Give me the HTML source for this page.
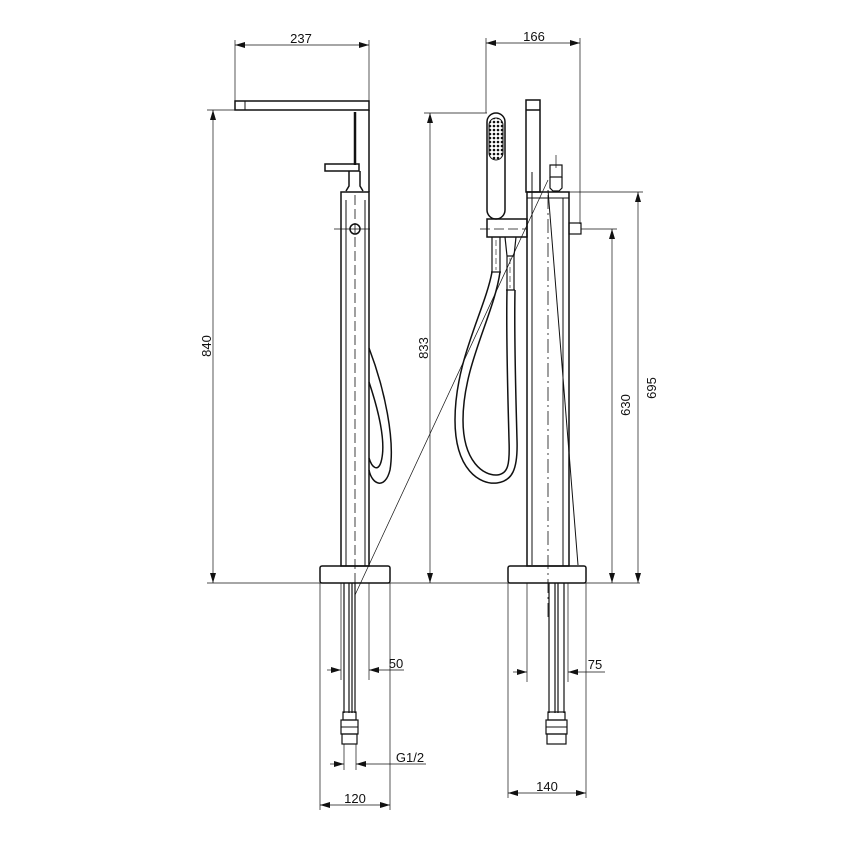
<!DOCTYPE html>
<html><head><meta charset="utf-8"><style>
html,body{margin:0;padding:0;background:#fff;width:850px;height:850px;overflow:hidden}
svg{display:block}
text{font-family:"Liberation Sans",sans-serif;font-size:13px;fill:#111}
</style></head><body>
<svg width="850" height="850" viewBox="0 0 850 850" xmlns="http://www.w3.org/2000/svg">
<defs>
<marker id="a" viewBox="0 0 10 6" refX="10" refY="3" markerWidth="10" markerHeight="6" orient="auto-start-reverse" markerUnits="userSpaceOnUse"><path d="M0,0 L10,3 L0,6z" fill="#111"/></marker>
<pattern id="dots" width="4" height="4" patternUnits="userSpaceOnUse"><circle cx="2" cy="2" r="1.3" fill="#111"/></pattern>
</defs>
<g stroke="#111" fill="none" stroke-width="1">
<!-- ===== LEFT VIEW ===== -->
<!-- 237 dim -->
<line x1="235" y1="40" x2="235" y2="101" stroke-width="0.7"/>
<line x1="369" y1="40" x2="369" y2="101" stroke-width="0.7"/>
<line x1="235" y1="45" x2="369" y2="45" stroke-width="0.7" marker-start="url(#a)" marker-end="url(#a)"/>
<!-- spout -->
<rect x="235" y="101" width="134" height="9" stroke-width="1.5"/>
<line x1="245" y1="101" x2="245" y2="110"/>
<line x1="369" y1="110" x2="369" y2="192" stroke-width="1.5"/>
<line x1="355" y1="112" x2="355" y2="165" stroke-width="2.5"/>
<!-- lever -->
<rect x="325" y="164" width="34" height="7" stroke-width="1.5"/>
<path d="M349,171 V186 L346,191 M360,171 V186 L363,191" stroke-width="1.5"/>
<!-- column -->
<rect x="341" y="192" width="28" height="374" stroke-width="1.5"/>
<line x1="346" y1="200" x2="346" y2="566"/>
<line x1="365" y1="200" x2="365" y2="566"/>
<line x1="355" y1="195" x2="355" y2="620" stroke-dasharray="10,4" stroke-width="0.8"/>
<circle cx="355" cy="229" r="5" stroke-width="1.5"/>
<line x1="334" y1="229" x2="370" y2="229" stroke-width="0.7"/>
<!-- hose left -->
<path d="M369,348 C385,390 395,440 390,470 C385,490 372,485 369,470" stroke-width="1.5"/>
<path d="M369,382 C380,415 386,445 381,462 C378,472 372,468 369,458" stroke-width="1.5"/>
<!-- base -->
<rect x="320" y="566" width="70" height="17" rx="2" stroke-width="1.5"/>
<!-- pipes -->
<line x1="344" y1="583" x2="344" y2="713" stroke-width="1.2"/>
<line x1="349" y1="583" x2="349" y2="713" stroke-width="1.2"/>
<line x1="352" y1="583" x2="352" y2="713" stroke-width="1.2"/>
<line x1="355" y1="583" x2="355" y2="713" stroke-width="1.2"/>
<rect x="343" y="712" width="13" height="8" stroke-width="1.2"/>
<rect x="341" y="720" width="17" height="14" stroke-width="1.2"/>
<rect x="342" y="734" width="15" height="10" stroke-width="1.2"/>
<line x1="341" y1="727" x2="358" y2="727"/>
<!-- 840 dim -->
<line x1="207" y1="110" x2="235" y2="110" stroke-width="0.7"/>
<line x1="213" y1="110" x2="213" y2="583" stroke-width="0.7" marker-start="url(#a)" marker-end="url(#a)"/>
<line x1="207" y1="583" x2="640" y2="583" stroke-width="0.7"/>
<!-- 50 -->
<line x1="341" y1="583" x2="341" y2="680" stroke-width="0.7"/>
<line x1="369" y1="583" x2="369" y2="680" stroke-width="0.7"/>
<line x1="327" y1="670" x2="341" y2="670" stroke-width="0.7" marker-end="url(#a)"/>
<line x1="404" y1="670" x2="369" y2="670" stroke-width="0.7" marker-end="url(#a)"/>
<!-- G1/2 -->
<line x1="344" y1="744" x2="344" y2="770" stroke-width="0.7"/>
<line x1="356" y1="744" x2="356" y2="770" stroke-width="0.7"/>
<line x1="330" y1="764" x2="344" y2="764" stroke-width="0.7" marker-end="url(#a)"/>
<line x1="426" y1="764" x2="356" y2="764" stroke-width="0.7" marker-end="url(#a)"/>
<!-- 120 -->
<line x1="320" y1="583" x2="320" y2="810" stroke-width="0.7"/>
<line x1="390" y1="583" x2="390" y2="810" stroke-width="0.7"/>
<line x1="320" y1="805" x2="390" y2="805" stroke-width="0.7" marker-start="url(#a)" marker-end="url(#a)"/>
<!-- diagonal cross lines -->
<line x1="355" y1="595" x2="548" y2="180" stroke-width="0.7"/>
<line x1="548" y1="190" x2="578" y2="565" stroke-width="1"/>

<!-- ===== RIGHT VIEW ===== -->
<line x1="486" y1="38" x2="486" y2="113" stroke-width="0.7"/>
<line x1="580" y1="38" x2="580" y2="224" stroke-width="0.7"/>
<line x1="486" y1="43" x2="580" y2="43" stroke-width="0.7" marker-start="url(#a)" marker-end="url(#a)"/>
<!-- hand shower -->
<rect x="487" y="113" width="18" height="106" rx="9" stroke-width="1.5"/>
<rect x="489" y="118" width="14" height="42" rx="7" fill="url(#dots)" stroke-width="1"/>
<!-- bracket -->
<rect x="487" y="219" width="40" height="18" stroke-width="1.5"/>
<line x1="480" y1="229" x2="527" y2="229" stroke-dasharray="10,4" stroke-width="0.7"/>
<!-- hose fittings -->
<path d="M492,237 V272 M500,237 V272 M491,272 H501" stroke-width="1.2"/>
<path d="M505,237 L507,256 H514 L516,237 M507,256 V290 M514,256 V290 M506,290 H515" stroke-width="1.2"/>
<line x1="496" y1="240" x2="496" y2="270" stroke-dasharray="6,3" stroke-width="0.6"/>
<line x1="510" y1="258" x2="510" y2="288" stroke-dasharray="6,3" stroke-width="0.6"/>
<!-- hose loop -->
<path d="M492,272 C485,310 455,360 455,420 C455,470 480,485 497,483 C512,481 518,470 517,440 C516,400 514,340 515,290" stroke-width="1.5"/>
<path d="M500,272 C494,315 463,365 463,420 C463,462 484,476 497,475 C508,474 510,465 509,440 C508,400 506,340 507,290" stroke-width="1.5"/>
<!-- stick -->
<rect x="526" y="100" width="14" height="92" stroke-width="1.5"/>
<line x1="526" y1="110" x2="540" y2="110" stroke-width="1.5"/>
<line x1="532" y1="172" x2="532" y2="565"/>
<!-- nipple -->
<rect x="550" y="165" width="12" height="12" stroke-width="1.2"/>
<path d="M550,177 V188 L553,191 H559 L562,188 V177" stroke-width="1.2"/>
<line x1="556" y1="155" x2="556" y2="168" stroke-width="0.7"/>
<!-- column -->
<rect x="527" y="192" width="42" height="374" stroke-width="1.5"/>
<line x1="527" y1="198" x2="569" y2="198"/>
<line x1="563" y1="198" x2="563" y2="566"/>
<line x1="548" y1="195" x2="548" y2="620" stroke-dasharray="14,4,2,4" stroke-width="0.8"/>
<rect x="569" y="223" width="12" height="11" stroke-width="1.2"/>
<line x1="581" y1="229" x2="617" y2="229" stroke-width="0.7"/>
<line x1="569" y1="192" x2="643" y2="192" stroke-width="0.7"/>
<!-- base -->
<rect x="508" y="566" width="78" height="17" rx="2" stroke-width="1.5"/>
<!-- 833 dim -->
<line x1="424" y1="113" x2="487" y2="113" stroke-width="0.7"/>
<line x1="430" y1="113" x2="430" y2="583" stroke-width="0.7" marker-start="url(#a)" marker-end="url(#a)"/>
<!-- 630 / 695 -->
<line x1="612" y1="229" x2="612" y2="583" stroke-width="0.7" marker-start="url(#a)" marker-end="url(#a)"/>
<line x1="638" y1="192" x2="638" y2="583" stroke-width="0.7" marker-start="url(#a)" marker-end="url(#a)"/>
<!-- pipes -->
<line x1="549" y1="583" x2="549" y2="713" stroke-width="1.2"/>
<line x1="555" y1="583" x2="555" y2="713" stroke-width="1.2"/>
<line x1="558" y1="583" x2="558" y2="713" stroke-width="1.2"/>
<line x1="564" y1="583" x2="564" y2="713" stroke-width="1.2"/>
<rect x="548" y="712" width="17" height="8" stroke-width="1.2"/>
<rect x="546" y="720" width="21" height="14" stroke-width="1.2"/>
<rect x="547" y="734" width="19" height="10" stroke-width="1.2"/>
<line x1="546" y1="727" x2="567" y2="727"/>
<!-- 75 -->
<line x1="527" y1="583" x2="527" y2="682" stroke-width="0.7"/>
<line x1="568" y1="583" x2="568" y2="682" stroke-width="0.7"/>
<line x1="513" y1="672" x2="527" y2="672" stroke-width="0.7" marker-end="url(#a)"/>
<line x1="605" y1="672" x2="568" y2="672" stroke-width="0.7" marker-end="url(#a)"/>
<!-- 140 -->
<line x1="508" y1="583" x2="508" y2="798" stroke-width="0.7"/>
<line x1="586" y1="583" x2="586" y2="798" stroke-width="0.7"/>
<line x1="508" y1="793" x2="586" y2="793" stroke-width="0.7" marker-start="url(#a)" marker-end="url(#a)"/>
</g>
<!-- texts -->
<text x="301" y="43" text-anchor="middle">237</text>
<text x="534" y="41" text-anchor="middle">166</text>
<text transform="translate(211,346) rotate(-90)" text-anchor="middle">840</text>
<text transform="translate(428,348) rotate(-90)" text-anchor="middle">833</text>
<text transform="translate(630,405) rotate(-90)" text-anchor="middle">630</text>
<text transform="translate(656,388) rotate(-90)" text-anchor="middle">695</text>
<text x="396" y="668" text-anchor="middle">50</text>
<text x="595" y="669" text-anchor="middle">75</text>
<text x="410" y="762" text-anchor="middle">G1/2</text>
<text x="355" y="803" text-anchor="middle">120</text>
<text x="547" y="791" text-anchor="middle">140</text>
</svg>
</body></html>
